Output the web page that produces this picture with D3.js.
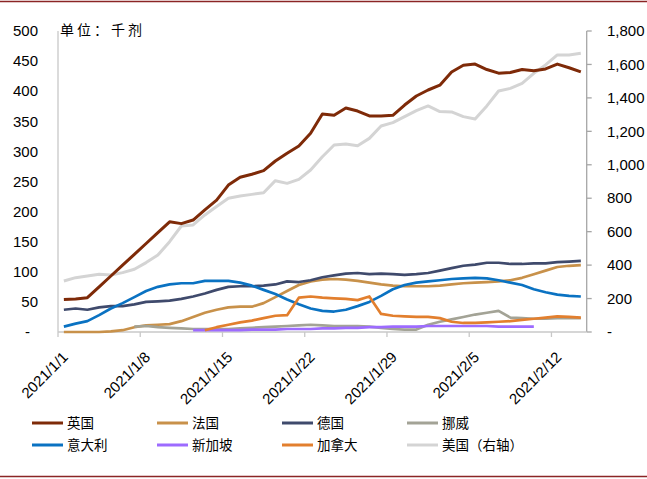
<!DOCTYPE html>
<html>
<head>
<meta charset="utf-8">
<script src="https://cdn.jsdelivr.net/npm/d3@7"></script>
<style>
  body { margin: 0; background: #fff; }
  svg { display: block; }
  .num { font-family: "Liberation Sans", Arial, sans-serif; font-size: 15px; fill: #000; }
  .cjk { font-family: "Noto Sans CJK SC", sans-serif; fill: #000; }
</style>
</head>
<body>
<svg id="chart" width="647" height="479"></svg>
<script>
// categories: one per day
const dates = [
  '2021/1/1','2021/1/2','2021/1/3','2021/1/4','2021/1/5','2021/1/6','2021/1/7',
  '2021/1/8','2021/1/9','2021/1/10','2021/1/11','2021/1/12','2021/1/13','2021/1/14',
  '2021/1/15','2021/1/16','2021/1/17','2021/1/18','2021/1/19','2021/1/20','2021/1/21',
  '2021/1/22','2021/1/23','2021/1/24','2021/1/25','2021/1/26','2021/1/27','2021/1/28',
  '2021/1/29','2021/1/30','2021/1/31','2021/2/1','2021/2/2','2021/2/3','2021/2/4',
  '2021/2/5','2021/2/6','2021/2/7','2021/2/8','2021/2/9','2021/2/10','2021/2/11',
  '2021/2/12','2021/2/13','2021/2/14'
];
const tickDates = ['2021/1/1','2021/1/8','2021/1/15','2021/1/22','2021/1/29','2021/2/5','2021/2/12'];

const leftTicks = [0, 50, 100, 150, 200, 250, 300, 350, 400, 450, 500];
const rightTicks = [0, 200, 400, 600, 800, 1000, 1200, 1400, 1600, 1800];

// series values (thousand doses)
const uk = [54,55,57,75,93,111,129,147,165,183,180,186,203,219,244,257,262,268,284,297,
  309,330,362,360,372,367,359,359,360,377,392,402,410,432,443,445,436,430,431,436,
  434,437,445,439,432];
const france = [0,0,0,0,1,3,8,11,12,13,18,25,32,37,41,42,42,48,58,68,
  78,84,87,88,87,85,82,79,77,76,76,76,77,79,81,82,83,84,86,90,
  96,102,108,110,111];
const germany = [37,39,37,41,43,43,46,50,51,52,55,59,64,70,75,76,76,77,79,84,
  83,86,91,94,97,98,96,97,96,95,96,98,102,106,110,112,115,115,113,113,
  114,114,116,117,118];
const norway = [null,null,null,null,null,null,9,10,8,7,6,5,5,5,5,6,7,8,9,10,
  11,12,11,10,10,10,9,7,5,4,4,12,17,21,25,29,32,35,24,23,
  22,22,23,23,23];
const italy = [9,14,18,28,39,48,58,68,75,79,81,81,85,85,85,82,77,70,63,54,
  46,39,35,34,37,43,50,60,71,78,82,84,86,88,89,90,89,86,82,78,
  71,66,62,60,59];
const singapore = [null,null,null,null,null,null,null,null,null,null,null,3,3,3,3,3,4,4,4,5,
  5,5,6,6,7,7,8,8,9,9,9,10,10,10,10,10,10,9,9,9,
  9,null,null,null,null];
const canada = [null,null,null,null,null,null,null,null,null,null,null,null,3,8,12,16,19,23,27,28,
  57,59,57,56,55,53,59,30,27,26,25,25,23,17,15,15,16,17,18,20,
  22,24,26,25,24];
const usa = [305,325,335,345,341,355,375,415,460,540,634,640,700,750,800,813,823,833,905,889,
  913,969,1048,1118,1124,1114,1158,1232,1252,1288,1324,1352,1318,1316,1288,1274,1352,1441,1457,1487,
  1547,1597,1657,1657,1667];

const series = [
  { name: '美国（右轴）', values: usa, color: '#d4d4d4', axis: 'right', width: 3 },
  { name: '英国', values: uk, color: '#7e2a08', axis: 'left', width: 3 },
  { name: '法国', values: france, color: '#c8914a', axis: 'left', width: 2.7 },
  { name: '德国', values: germany, color: '#3f4a6c', axis: 'left', width: 2.7 },
  { name: '挪威', values: norway, color: '#a3a396', axis: 'left', width: 2.7 },
  { name: '意大利', values: italy, color: '#0a72c2', axis: 'left', width: 2.7 },
  { name: '新加坡', values: singapore, color: '#9d6bff', axis: 'left', width: 2.7 },
  { name: '加拿大', values: canada, color: '#e27f2e', axis: 'left', width: 2.7 }
];
const legendOrder = ['英国','法国','德国','挪威','意大利','新加坡','加拿大','美国（右轴）'];

const svg = d3.select('#chart');
const plot = { left: 58, right: 586.7, top: 31, bottom: 332 };

const x = d3.scaleBand().domain(dates).range([plot.left, plot.right]);
const yL = d3.scaleLinear().domain([0, 500]).range([plot.bottom, plot.top]);
const yR = d3.scaleLinear().domain([0, 1800]).range([plot.bottom, plot.top]);

// frame lines top and bottom
svg.append('line').attr('x1', 0).attr('x2', 647).attr('y1', 1.5).attr('y2', 1.5)
  .attr('stroke', '#8b2525').attr('stroke-width', 1.5);
svg.append('line').attr('x1', 0).attr('x2', 647).attr('y1', 476.5).attr('y2', 476.5)
  .attr('stroke', '#8b2525').attr('stroke-width', 1.5);

// left axis
svg.append('line').attr('x1', plot.left).attr('x2', plot.left)
  .attr('y1', plot.top).attr('y2', plot.bottom).attr('stroke', '#c8c8c8').attr('stroke-width', 1.3);
svg.append('g').selectAll('text').data(leftTicks).join('text')
  .attr('class', 'num')
  .attr('x', d => d === 0 ? 30 : 38)
  .attr('y', d => yL(d))
  .attr('dy', '0.35em')
  .attr('text-anchor', 'end')
  .text(d => d === 0 ? '-' : d);

// right axis
svg.append('line').attr('x1', plot.right).attr('x2', plot.right)
  .attr('y1', plot.top).attr('y2', plot.bottom).attr('stroke', '#a6a6a6').attr('stroke-width', 1.3);
svg.append('g').selectAll('line').data(rightTicks).join('line')
  .attr('x1', plot.right).attr('x2', plot.right + 5)
  .attr('y1', d => yR(d)).attr('y2', d => yR(d))
  .attr('stroke', '#a6a6a6').attr('stroke-width', 1.3);
svg.append('g').selectAll('text').data(rightTicks).join('text')
  .attr('class', 'num')
  .attr('x', 607)
  .attr('y', d => yR(d))
  .attr('dy', '0.35em')
  .text(d => d === 0 ? '-' : d3.format(',')(d));

// bottom axis
svg.append('line').attr('x1', plot.left).attr('x2', plot.right)
  .attr('y1', plot.bottom).attr('y2', plot.bottom).attr('stroke', '#c8c8c8').attr('stroke-width', 1.3);
svg.append('g').selectAll('line').data(tickDates).join('line')
  .attr('x1', d => x(d)).attr('x2', d => x(d))
  .attr('y1', plot.bottom).attr('y2', plot.bottom + 5)
  .attr('stroke', '#c8c8c8').attr('stroke-width', 1.3);
svg.append('g').selectAll('text').data(tickDates).join('text')
  .attr('class', 'num')
  .attr('text-anchor', 'end')
  .attr('transform', d => `translate(${x(d) + 11},358) rotate(-45)`)
  .text(d => d);

// unit label
svg.append('text').attr('class', 'cjk')
  .attr('x', 60).attr('y', 35)
  .style('font-size', '14px').style('letter-spacing', '3px')
  .text('单位：千剂');

// lines
const cx = d => x(d) + x.bandwidth() / 2;
series.forEach(s => {
  const y = s.axis === 'right' ? yR : yL;
  const line = d3.line()
    .defined(d => d[1] != null)
    .x(d => cx(d[0]))
    .y(d => y(d[1]));
  svg.append('path')
    .datum(dates.map((d, i) => [d, s.values[i]]))
    .attr('fill', 'none')
    .attr('stroke', s.color)
    .attr('stroke-width', s.width)
    .attr('stroke-linejoin', 'round')
    .attr('d', line);
});

// legend
const legend = svg.append('g');
legendOrder.forEach((name, i) => {
  const s = series.find(d => d.name === name);
  const lx = 32 + (i % 4) * 125;
  const ly = 423 + Math.floor(i / 4) * 22;
  legend.append('line').attr('x1', lx).attr('x2', lx + 31)
    .attr('y1', ly).attr('y2', ly)
    .attr('stroke', s.color).attr('stroke-width', 3);
  legend.append('text').attr('class', 'cjk')
    .attr('x', lx + 35).attr('y', ly).attr('dy', '0.38em')
    .style('font-size', '13.5px')
    .text(name);
});
</script>
</body>
</html>
